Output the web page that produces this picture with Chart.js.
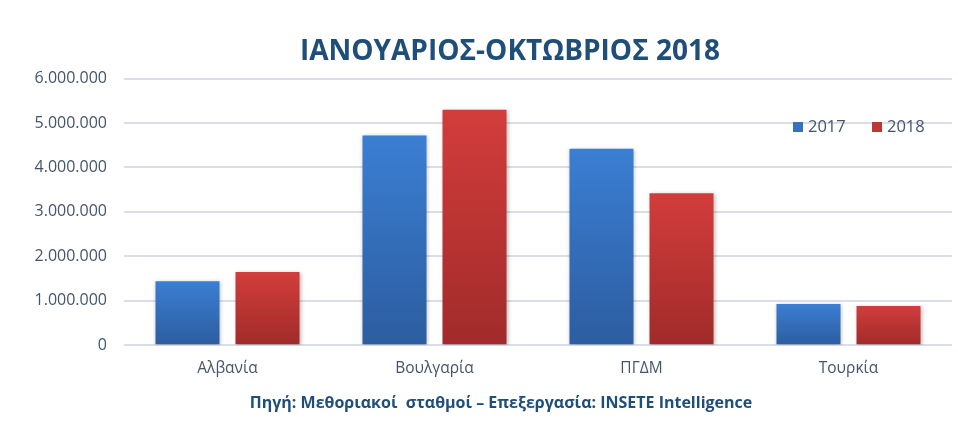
<!DOCTYPE html>
<html>
<head>
<meta charset="utf-8">
<script src="https://cdn.jsdelivr.net/npm/chart.js@4/dist/chart.umd.min.js"></script>
<style>
  html, body { margin: 0; padding: 0; background: #ffffff; }
  #wrap { width: 958px; height: 421px; position: relative; }
</style>
</head>
<body>
<div id="wrap"><canvas id="c" width="958" height="421"></canvas></div>
<script>
const categories = ["Αλβανία", "Βουλγαρία", "ΠΓΔΜ", "Τουρκία"];
const seriesNames = ["2017", "2018"];
const values2017 = [1440000, 4720000, 4420000, 930000];
const values2018 = [1650000, 5300000, 3420000, 880000];
const titleText = "ΙΑΝΟΥΑΡΙΟΣ-ΟΚΤΩΒΡΙΟΣ 2018";
const sourceText = "Πηγή: Μεθοριακοί  σταθμοί – Επεξεργασία: INSETE Intelligence";

const FONT = "'Open Sans', 'Noto Sans', 'DejaVu Sans', sans-serif";
const textColor = "#44546A";
const titleColor = "#1F4E79";

const colors = {
  "2017": { top: "#3B7ED3", bottom: "#2C5D9F", legend: "#3571BE" },
  "2018": { top: "#D23D3B", bottom: "#A02B2A", legend: "#C33533" }
};

function barGradient(name) {
  return function (ctx) {
    const chart = ctx.chart;
    const area = chart.chartArea;
    if (!area || ctx.type !== "data") return colors[name].top;
    const y = chart.scales.y;
    const top = y.getPixelForValue(ctx.raw);
    const bottom = y.getPixelForValue(0);
    if (!isFinite(top) || !isFinite(bottom) || top === bottom) return colors[name].top;
    const g = chart.ctx.createLinearGradient(0, top, 0, bottom);
    g.addColorStop(0, colors[name].top);
    g.addColorStop(1, colors[name].bottom);
    return g;
  };
}

function fmt(v) {
  return String(Math.round(v)).replace(/\B(?=(\d{3})+(?!\d))/g, ".");
}

const shadowPlugin = {
  id: "barShadow",
  beforeDatasetsDraw(chart) {
    const c = chart.ctx;
    c.save();
    c.shadowColor = "rgba(0,0,0,0.28)";
    c.shadowBlur = 4;
    c.shadowOffsetX = 1;
    c.shadowOffsetY = 1;
  },
  afterDatasetsDraw(chart) {
    chart.ctx.restore();
  }
};

// shift the horizontal centre of the title and source line
const textCentrePlugin = {
  id: "textCentre",
  afterLayout(chart) {
    chart.boxes.forEach((b) => {
      if (!b.options || b.options.text === undefined) return;
      if (b.options.text === titleText) { b.left = 62; b.right = 958; b.width = 896; }
      if (b.options.text === sourceText) { b.left = 44; b.right = 958; b.width = 914; }
    });
  }
};

const legendPlugin = {
  id: "insideLegend",
  afterDraw(chart) {
    const c = chart.ctx;
    c.save();
    c.font = "16.5px " + FONT;
    c.textBaseline = "middle";
    c.textAlign = "left";
    const y = 127;
    let x = 793;
    chart.data.datasets.forEach((ds) => {
      c.fillStyle = colors[ds.label].legend;
      c.fillRect(x, y - 5, 10, 10);
      c.fillStyle = textColor;
      c.fillText(ds.label, x + 15, y);
      x += 79;
    });
    c.restore();
  }
};

new Chart(document.getElementById("c"), {
  type: "bar",
  data: {
    labels: categories,
    datasets: [
      { label: seriesNames[0], data: values2017, backgroundColor: barGradient("2017"),
        categoryPercentage: 0.773, barPercentage: 0.8 },
      { label: seriesNames[1], data: values2018, backgroundColor: barGradient("2018"),
        categoryPercentage: 0.773, barPercentage: 0.8 }
    ]
  },
  options: {
    responsive: false,
    animation: false,
    devicePixelRatio: 1,
    layout: { padding: { left: 0, right: 6, top: 0, bottom: 0 } },
    plugins: {
      legend: { display: false },
      tooltip: { enabled: false },
      title: {
        display: true,
        text: titleText,
        color: titleColor,
        font: { family: FONT, size: 28, weight: "bold" },
        padding: { top: 35, bottom: 10 }
      },
      subtitle: {
        display: true,
        position: "bottom",
        text: sourceText,
        color: titleColor,
        font: { family: FONT, size: 16, weight: "bold" },
        padding: { top: 2, bottom: 8 }
      }
    },
    scales: {
      x: {
        grid: { display: false, drawTicks: false },
        border: { display: false },
        ticks: { color: textColor, font: { family: FONT, size: 15.5 }, padding: 14 }
      },
      y: {
        min: 0,
        max: 6000000,
        afterFit(scale) { scale.width = 124; },
        grid: { color: "#D9DEE8", lineWidth: 2, drawTicks: false },
        border: { display: false },
        ticks: {
          stepSize: 1000000,
          color: textColor,
          font: { family: FONT, size: 16 },
          padding: 17,
          callback: (v) => fmt(v)
        }
      }
    }
  },
  plugins: [shadowPlugin, textCentrePlugin, legendPlugin]
});
</script>
</body>
</html>
